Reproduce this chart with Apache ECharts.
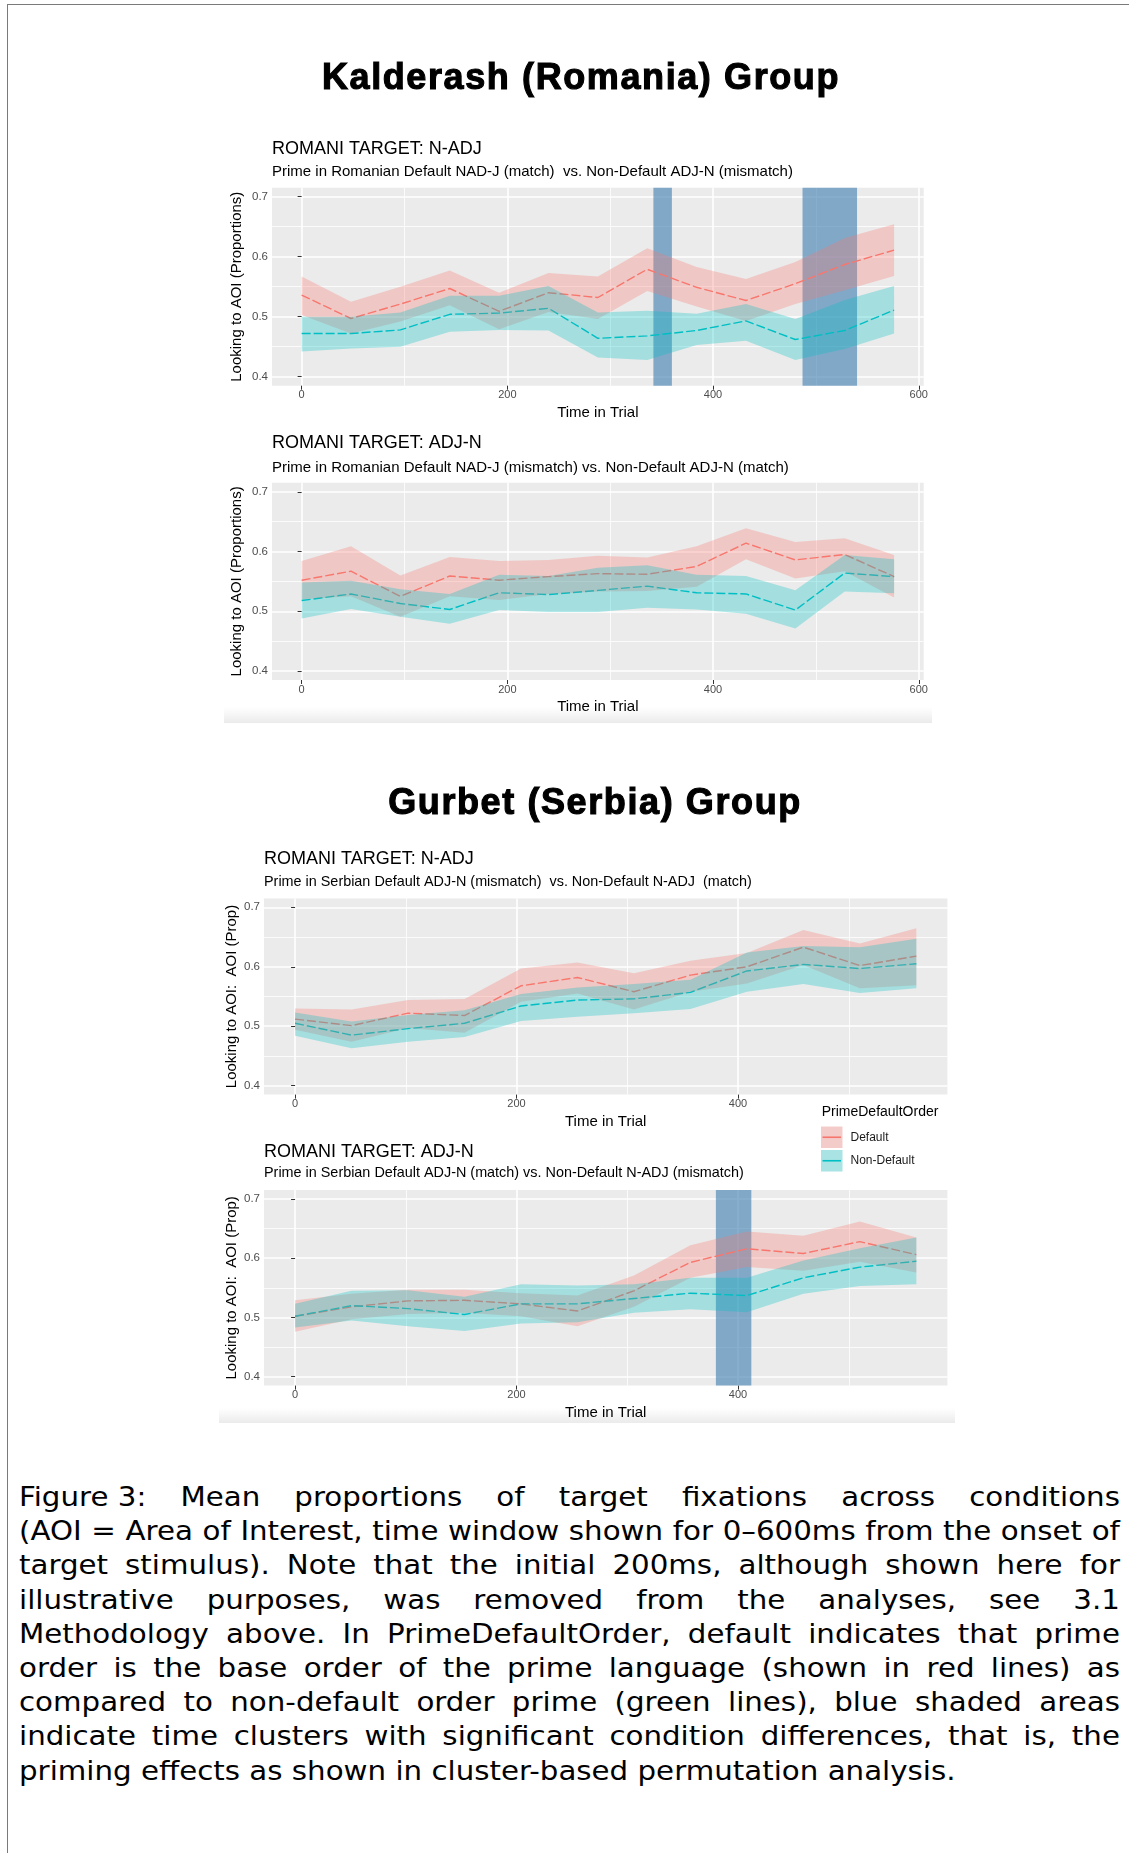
<!DOCTYPE html>
<html>
<head>
<meta charset="utf-8">
<title>Mean proportions of target fixations</title>
<script src="https://cdn.jsdelivr.net/npm/echarts@6/dist/echarts.min.js"></script>
<style>
  html, body { margin: 0; padding: 0; background: #fff; }
  body { width: 1129px; height: 1853px; position: relative; overflow: hidden; }
  #frame { position: absolute; left: 7px; top: 4px; width: 1200px; height: 1900px;
           border-top: 1px solid #7a7a7a; border-left: 1px solid #7a7a7a; }
  #chart { position: absolute; left: 0; top: 0; width: 1129px; height: 1460px; }
  .group { position: absolute; font-family: 'Liberation Sans', Arial, sans-serif; font-weight: bold;
           font-size: 36px; line-height: 36px; letter-spacing: 1.6px; -webkit-text-stroke: 1.1px #000;
           color: #000; white-space: nowrap; transform: translateX(-50%); z-index: 2; }
  #caption { position: absolute; left: 19px; top: 1480px; width: 1014.7px; transform: scaleX(1.085);
             transform-origin: 0 0; font-family: 'DejaVu Sans', sans-serif;
             font-size: 27px; line-height: 34.2px; color: #000; z-index: 2; }
  #caption .j { text-align: justify; text-align-last: justify; }
  #caption .tight { display: inline-block; }
</style>
</head>
<body>
<div id="frame"></div>
<div id="chart"></div>
<div class="group" style="left:581px; top:59px;">Kalderash (Romania) Group</div>
<div class="group" style="left:595px; top:784px;">Gurbet (Serbia) Group</div>
<div id="caption">
  <div class="j"><span class="tight">Figure 3:</span> Mean proportions of target fixations across conditions</div>
  <div class="j">(AOI = Area of Interest, time window shown for 0–600ms from the onset of</div>
  <div class="j">target stimulus). Note that the initial 200ms, although shown here for</div>
  <div class="j">illustrative purposes, was removed from the analyses, see 3.1</div>
  <div class="j">Methodology above. In PrimeDefaultOrder, default indicates that prime</div>
  <div class="j">order is the base order of the prime language (shown in red lines) as</div>
  <div class="j">compared to non-default order prime (green lines), blue shaded areas</div>
  <div class="j">indicate time clusters with significant condition differences, that is, the</div>
  <div>priming effects as shown in cluster-based permutation analysis.</div>
</div>
<script>
// ---- time bins (ms from target onset) ----
const timeRO = [0, 48, 96, 144, 192, 240, 288, 336, 384, 432, 480, 528, 576];
const timeRS = [0, 51, 102, 153, 204, 255, 306, 357, 408, 459, 510, 561];

// ---- axis ticks ----
const xTicksRO = [0, 200, 400, 600];
const xTicksRS = [0, 200, 400];
const xMinor = [100, 300, 500];
const yTicks = [0.4, 0.5, 0.6, 0.7];
const yMinor = [0.45, 0.55, 0.65];

// ---- Kalderash, Romani target N-ADJ ----
const roNadjDef     = [0.536, 0.497, 0.521, 0.547, 0.509, 0.540, 0.532, 0.579, 0.549, 0.527, 0.555, 0.587, 0.611];
const roNadjDefLo   = [0.503, 0.472, 0.492, 0.519, 0.479, 0.508, 0.496, 0.543, 0.517, 0.493, 0.521, 0.544, 0.568];
const roNadjDefHi   = [0.567, 0.525, 0.550, 0.577, 0.540, 0.573, 0.567, 0.614, 0.583, 0.563, 0.591, 0.631, 0.654];
const roNadjNon     = [0.472, 0.472, 0.478, 0.504, 0.506, 0.514, 0.464, 0.468, 0.477, 0.493, 0.462, 0.477, 0.511];
const roNadjNonLo   = [0.442, 0.447, 0.450, 0.475, 0.478, 0.477, 0.432, 0.428, 0.453, 0.460, 0.428, 0.446, 0.472];
const roNadjNonHi   = [0.500, 0.500, 0.507, 0.535, 0.535, 0.551, 0.507, 0.510, 0.505, 0.521, 0.496, 0.528, 0.551];
const roNadjClusters = [[342, 360], [487, 540]];

// ---- Kalderash, Romani target ADJ-N ----
const roAdjnDef     = [0.552, 0.567, 0.525, 0.559, 0.552, 0.558, 0.563, 0.562, 0.575, 0.614, 0.586, 0.595, 0.558];
const roAdjnDefLo   = [0.520, 0.525, 0.491, 0.525, 0.519, 0.529, 0.533, 0.534, 0.541, 0.587, 0.555, 0.567, 0.523];
const roAdjnDefHi   = [0.584, 0.609, 0.560, 0.591, 0.584, 0.586, 0.593, 0.590, 0.609, 0.639, 0.616, 0.622, 0.594];
const roAdjnNon     = [0.518, 0.529, 0.513, 0.503, 0.531, 0.528, 0.535, 0.542, 0.531, 0.529, 0.502, 0.564, 0.558];
const roAdjnNonLo   = [0.488, 0.504, 0.491, 0.479, 0.502, 0.499, 0.499, 0.506, 0.503, 0.496, 0.471, 0.533, 0.530];
const roAdjnNonHi   = [0.548, 0.551, 0.537, 0.529, 0.561, 0.559, 0.573, 0.577, 0.561, 0.559, 0.535, 0.594, 0.587];
const roAdjnClusters = [];

// ---- Gurbet, Romani target N-ADJ ----
const rsNadjDef     = [0.512, 0.501, 0.522, 0.518, 0.568, 0.582, 0.558, 0.586, 0.600, 0.633, 0.602, 0.618];
const rsNadjDefLo   = [0.494, 0.474, 0.497, 0.489, 0.541, 0.555, 0.528, 0.558, 0.572, 0.603, 0.564, 0.569];
const rsNadjDefHi   = [0.530, 0.528, 0.544, 0.546, 0.597, 0.607, 0.589, 0.610, 0.623, 0.662, 0.639, 0.665];
const rsNadjNon     = [0.505, 0.485, 0.496, 0.505, 0.534, 0.544, 0.546, 0.557, 0.593, 0.604, 0.597, 0.605];
const rsNadjNonLo   = [0.484, 0.463, 0.474, 0.482, 0.509, 0.516, 0.522, 0.529, 0.558, 0.571, 0.556, 0.564];
const rsNadjNonHi   = [0.523, 0.508, 0.519, 0.527, 0.554, 0.565, 0.571, 0.578, 0.624, 0.635, 0.633, 0.647];
const rsNadjClusters = [];

// ---- Gurbet, Romani target ADJ-N ----
const rsAdjnDef     = [0.502, 0.518, 0.528, 0.529, 0.523, 0.511, 0.545, 0.593, 0.616, 0.608, 0.628, 0.606];
const rsAdjnDefLo   = [0.476, 0.497, 0.506, 0.508, 0.502, 0.485, 0.518, 0.567, 0.585, 0.579, 0.594, 0.576];
const rsAdjnDefHi   = [0.529, 0.540, 0.547, 0.547, 0.541, 0.537, 0.571, 0.622, 0.645, 0.638, 0.662, 0.635];
const rsAdjnNon     = [0.502, 0.520, 0.515, 0.505, 0.523, 0.523, 0.532, 0.541, 0.537, 0.567, 0.585, 0.595];
const rsAdjnNonLo   = [0.483, 0.495, 0.485, 0.477, 0.490, 0.492, 0.508, 0.514, 0.509, 0.540, 0.553, 0.556];
const rsAdjnNonHi   = [0.523, 0.545, 0.546, 0.535, 0.556, 0.554, 0.556, 0.567, 0.567, 0.596, 0.617, 0.635];
const rsAdjnClusters = [[380, 412]];

// ---- styling ----
const FONT = "'Liberation Sans', Arial, Helvetica, sans-serif";
const RED = '#F8766D', TEAL = '#00BFC4';
const RED_FILL = 'rgba(248,118,109,0.3)', TEAL_FILL = 'rgba(0,191,196,0.3)';
const CLUSTER_FILL = 'rgba(70,130,180,0.64)';
const Y_MIN = 0.385, Y_MAX = 0.715;

const panels = [
  { time: timeRO, xTicks: xTicksRO, def: roNadjDef, defLo: roNadjDefLo, defHi: roNadjDefHi,
    non: roNadjNon, nonLo: roNadjNonLo, nonHi: roNadjNonHi, clusters: roNadjClusters,
    box: { left: 272, top: 187.7, width: 651.7, height: 198 }, yName: 'Looking to AOI (Proportions)', yNameGap: 28,
    title: 'ROMANI TARGET: N-ADJ', titleY: 149, subSize: 15,
    subtitle: 'Prime in Romanian Default NAD-J (match)  vs. Non-Default ADJ-N (mismatch)', subY: 171.7 },
  { time: timeRO, xTicks: xTicksRO, def: roAdjnDef, defLo: roAdjnDefLo, defHi: roAdjnDefHi,
    non: roAdjnNon, nonLo: roAdjnNonLo, nonHi: roAdjnNonHi, clusters: roAdjnClusters,
    box: { left: 272, top: 482.8, width: 651.7, height: 197.2 }, yName: 'Looking to AOI (Proportions)', yNameGap: 28,
    title: 'ROMANI TARGET: ADJ-N', titleY: 443.3, subSize: 15,
    subtitle: 'Prime in Romanian Default NAD-J (mismatch) vs. Non-Default ADJ-N (match)', subY: 467.7 },
  { time: timeRS, xTicks: xTicksRS, def: rsNadjDef, defLo: rsNadjDefLo, defHi: rsNadjDefHi,
    non: rsNadjNon, nonLo: rsNadjNonLo, nonHi: rsNadjNonHi, clusters: rsNadjClusters,
    box: { left: 264, top: 898.4, width: 683.4, height: 196.2 }, yName: 'Looking to AOI:  AOI (Prop)', yNameGap: 25,
    title: 'ROMANI TARGET: N-ADJ', titleY: 859, subSize: 14.4,
    subtitle: 'Prime in Serbian Default ADJ-N (mismatch)  vs. Non-Default N-ADJ  (match)', subY: 881.7 },
  { time: timeRS, xTicks: xTicksRS, def: rsAdjnDef, defLo: rsAdjnDefLo, defHi: rsAdjnDefHi,
    non: rsAdjnNon, nonLo: rsAdjnNonLo, nonHi: rsAdjnNonHi, clusters: rsAdjnClusters,
    box: { left: 264, top: 1190.1, width: 683.4, height: 195.5 }, yName: 'Looking to AOI:  AOI (Prop)', yNameGap: 25,
    title: 'ROMANI TARGET: ADJ-N', titleY: 1151.7, subSize: 14.4,
    subtitle: 'Prime in Serbian Default ADJ-N (match) vs. Non-Default N-ADJ (mismatch)', subY: 1173.3 }
];

const grid = [], xAxis = [], yAxis = [], series = [], graphic = [];

panels.forEach((p, i) => {
  const last = p.time[p.time.length - 1];
  const xMin = -0.05 * last, xMax = 1.05 * last;   // ggplot-style 5% expansion
  const pairs = ys => p.time.map((t, k) => [t, ys[k]]);

  grid.push({ left: p.box.left, top: p.box.top, width: p.box.width, height: p.box.height,
    show: true, backgroundColor: '#EBEBEB', borderWidth: 0, containLabel: false, outerBoundsMode: 'none' });

  // major x axis (labels, ticks, major grid lines)
  xAxis.push({ gridIndex: i, type: 'value', min: xMin, max: xMax, position: 'bottom',
    axisLine: { show: false },
    axisTick: { show: true, customValues: p.xTicks, length: 4, lineStyle: { color: '#333', width: 1 } },
    axisLabel: { customValues: p.xTicks, margin: 4, color: '#4D4D4D', fontSize: 11, fontFamily: FONT,
                 formatter: v => String(Math.round(v)) },
    splitLine: { show: true, lineStyle: { color: '#FFFFFF', width: 1.6 } },
    name: 'Time in Trial', nameLocation: 'middle', nameGap: 19.5, nameMoveOverlap: false,
    nameTextStyle: { fontSize: 15, color: '#000', fontFamily: FONT } });
  // minor x grid lines
  xAxis.push({ gridIndex: i, type: 'value', min: xMin, max: xMax, position: 'bottom',
    axisLine: { show: false }, axisTick: { show: false, customValues: xMinor },
    axisLabel: { show: false, customValues: xMinor },
    splitLine: { show: true, lineStyle: { color: '#FFFFFF', width: 0.8 } } });

  // major y axis
  yAxis.push({ gridIndex: i, type: 'value', min: Y_MIN, max: Y_MAX, position: 'left',
    axisLine: { show: false },
    axisTick: { show: true, customValues: yTicks, length: 4, lineStyle: { color: '#333', width: 1 } },
    axisLabel: { customValues: yTicks, margin: 4, color: '#4D4D4D', fontSize: 11.5, fontFamily: FONT,
                 formatter: v => v.toFixed(1) },
    splitLine: { show: true, lineStyle: { color: '#FFFFFF', width: 1.6 } },
    name: p.yName, nameLocation: 'middle', nameGap: p.yNameGap, nameMoveOverlap: false,
    nameTextStyle: { fontSize: 15, color: '#000', fontFamily: FONT } });
  // minor y grid lines
  yAxis.push({ gridIndex: i, type: 'value', min: Y_MIN, max: Y_MAX, position: 'left',
    axisLine: { show: false }, axisTick: { show: false, customValues: yMinor },
    axisLabel: { show: false, customValues: yMinor },
    splitLine: { show: true, lineStyle: { color: '#FFFFFF', width: 0.8 } } });

  const ax = { xAxisIndex: 2 * i, yAxisIndex: 2 * i };
  const lineCommon = { type: 'line', symbol: 'none', showSymbol: false, silent: true, animation: false, z: 2 };

  // mean lines (drawn underneath the confidence ribbons)
  series.push(Object.assign({}, lineCommon, ax, { name: 'Default', data: pairs(p.def),
    itemStyle: { color: RED }, lineStyle: { color: RED, width: 1.4, type: [9, 3] } }));
  series.push(Object.assign({}, lineCommon, ax, { name: 'Non-Default', data: pairs(p.non),
    itemStyle: { color: TEAL }, lineStyle: { color: TEAL, width: 1.4, type: [9, 3] } }));

  // confidence ribbons: one polygon through the upper bounds and back along the lower bounds
  const ribbon = (name, lo, hi, fill) => series.push(Object.assign({}, ax, {
    type: 'custom', name: name, z: 3, silent: true, animation: false,
    data: p.time.map((t, k) => [t, lo[k], hi[k]]),
    encode: { x: 0, y: [1, 2] },
    renderItem: (params, api) => {
      if (params.dataIndex !== 0) return null;
      const upper = p.time.map((t, k) => api.coord([t, hi[k]]));
      const lower = p.time.map((t, k) => api.coord([t, lo[k]])).reverse();
      return { type: 'polygon', shape: { points: upper.concat(lower) }, style: { fill: fill } };
    }
  }));
  ribbon('Default CI', p.defLo, p.defHi, RED_FILL);
  ribbon('Non-Default CI', p.nonLo, p.nonHi, TEAL_FILL);

  // significant time clusters
  series.push(Object.assign({}, lineCommon, ax, { name: 'clusters ' + i, z: 4, data: [],
    markArea: { silent: true, itemStyle: { color: CLUSTER_FILL },
      data: p.clusters.map(c => [{ xAxis: c[0] }, { xAxis: c[1] }]) } }));

  // panel title and subtitle
  graphic.push({ type: 'text', x: p.box.left, y: p.titleY, silent: true,
    style: { text: p.title, fill: '#000', font: '18px ' + FONT, verticalAlign: 'middle' } });
  graphic.push({ type: 'text', x: p.box.left, y: p.subY, silent: true,
    style: { text: p.subtitle, fill: '#000', font: p.subSize + 'px ' + FONT, verticalAlign: 'middle' } });
});

// legend title
graphic.push({ type: 'text', x: 821.7, y: 1111.7, silent: true,
  style: { text: 'PrimeDefaultOrder', fill: '#000', font: '14px ' + FONT, verticalAlign: 'middle' } });

// faint shading beneath the two lower panels
const shade = (x, y, w, h) => ({ type: 'rect', shape: { x: x, y: y, width: w, height: h }, silent: true, z: -1,
  style: { fill: new echarts.graphic.LinearGradient(0, 0, 0, 1,
    [{ offset: 0, color: 'rgba(235,235,235,0)' }, { offset: 1, color: 'rgba(232,232,232,0.9)' }]) } });
graphic.push(shade(224, 707, 708, 16));
graphic.push(shade(219, 1408, 736, 15));

const legendText = { fontSize: 12, fontFamily: FONT, padding: [0, 0, 0, 3] };
const option = {
  animation: false,
  backgroundColor: 'transparent',
  grid, xAxis, yAxis, series, graphic,
  legend: [
    { orient: 'vertical', left: 821, top: 1126.5, padding: 0, itemWidth: 21.5, itemHeight: 21.5, itemGap: 2,
      selectedMode: false, textStyle: Object.assign({ color: '#1a1a1a' }, legendText),
      data: [
        { name: 'Default', icon: 'rect', itemStyle: { color: '#F3CCCA', borderWidth: 0 }, lineStyle: { width: 0 } },
        { name: 'Non-Default', icon: 'rect', itemStyle: { color: '#A9E3E4', borderWidth: 0 }, lineStyle: { width: 0 } }
      ] },
    { orient: 'vertical', left: 822.5, top: 1126.5, padding: 0, itemWidth: 18.5, itemHeight: 1.6, itemGap: 2,
      selectedMode: false, z: 5,
      textStyle: Object.assign({ color: 'rgba(0,0,0,0)', lineHeight: 21.5 }, legendText),
      data: [
        { name: 'Default', icon: 'rect', itemStyle: { color: RED, borderWidth: 0 }, lineStyle: { width: 0 } },
        { name: 'Non-Default', icon: 'rect', itemStyle: { color: TEAL, borderWidth: 0 }, lineStyle: { width: 0 } }
      ] }
  ]
};

const chart = echarts.init(document.getElementById('chart'), null, { renderer: 'canvas' });
chart.setOption(option);
</script>
</body>
</html>
